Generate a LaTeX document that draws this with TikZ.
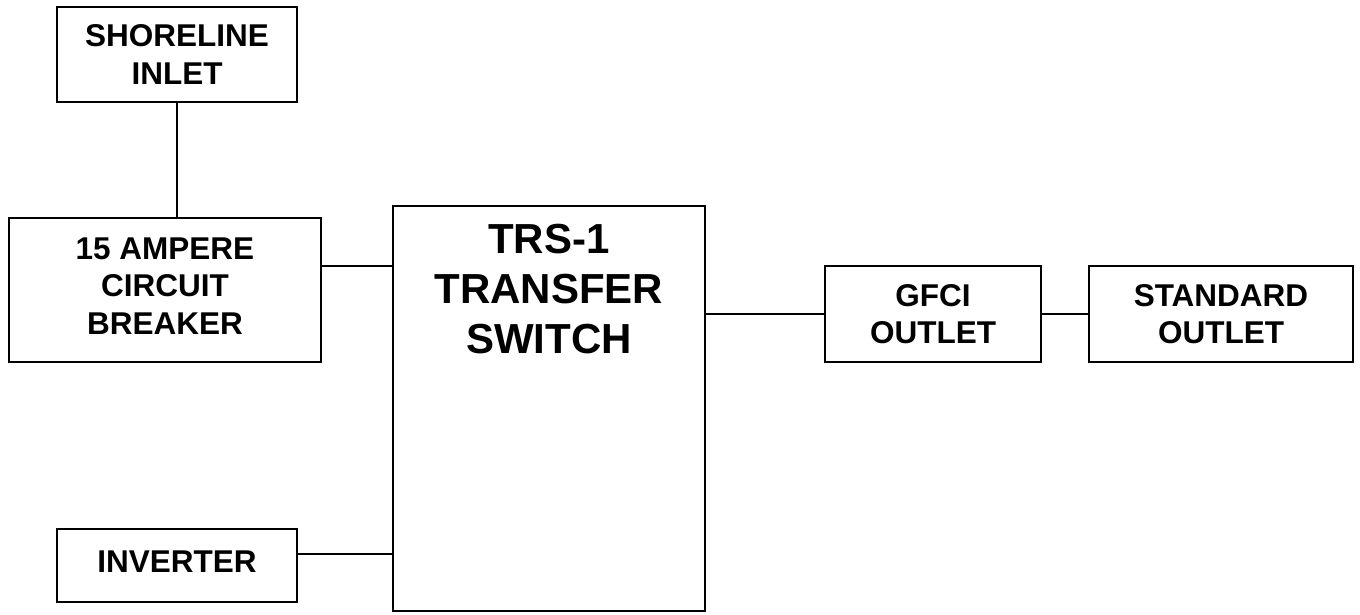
\documentclass[tikz,border=0pt]{standalone}
\usepackage{fontspec}
\setmainfont{Liberation Sans}
\begin{document}
\begin{tikzpicture}[
  blk/.style={draw=black, line width=2pt, rectangle, inner sep=0pt, align=center,
    font=\fontsize{31.5}{37.5}\selectfont\bfseries},
  txt/.style={inner sep=0pt, align=center, font=\fontsize{31.5}{37.5}\selectfont\bfseries},
  wire/.style={draw=black, line width=2pt},
  bigtext/.style={inner sep=0pt, align=center, font=\fontsize{42}{50}\selectfont\bfseries}
]
\useasboundingbox (0,0) rectangle (1360pt,-615pt);
\node[blk, minimum width=240pt, minimum height=95pt] (shore) at (177pt,-54.5pt) {SHORELINE\\INLET};
\node[blk, minimum width=312pt, minimum height=144pt] (brk) at (165pt,-290pt) {};
\node[txt] (brktext) at ([yshift=4pt]brk.center) {15 AMPERE\\CIRCUIT\\BREAKER};
\node[blk, minimum width=312pt, minimum height=405pt] (trs) at (549pt,-408.5pt) {};
\node[bigtext, anchor=north] (trstext) at ([yshift=-19pt]trs.north) {TRS-1\\TRANSFER\\SWITCH};
\node[blk, minimum width=216pt, minimum height=96pt] (gfci) at (933pt,-314pt) {GFCI\\OUTLET};
\node[blk, minimum width=264pt, minimum height=96pt] (std) at (1221pt,-314pt) {STANDARD\\OUTLET};
\node[blk, minimum width=240pt, minimum height=73pt] (inv) at (177pt,-565.5pt) {};
\node[txt] (invtext) at ([yshift=4pt]inv.center) {INVERTER};
\coordinate (ya) at (0,-266pt);
\coordinate (yb) at (0,-553.5pt);
\draw[wire] (shore.south) -- (shore.south |- brk.north);
\draw[wire] (brk.east |- ya) -- (trs.west |- ya);
\draw[wire] (inv.east |- yb) -- (trs.west |- yb);
\draw[wire] (trs.east |- gfci.west) -- (gfci.west);
\draw[wire] (gfci.east) -- (std.west);
\end{tikzpicture}
\end{document}
